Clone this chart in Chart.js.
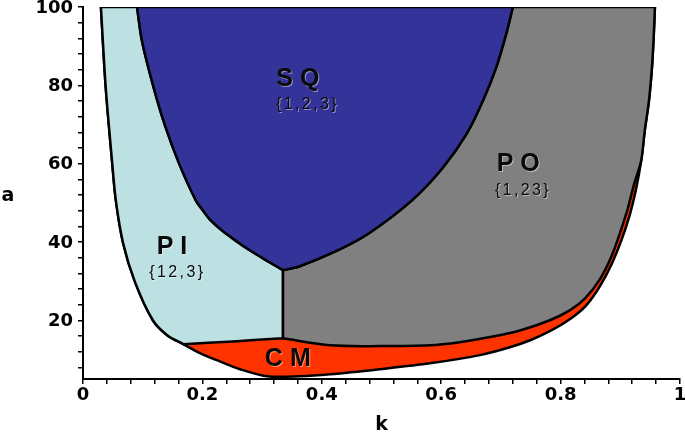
<!DOCTYPE html>
<html>
<head>
<meta charset="utf-8">
<script src="https://cdn.jsdelivr.net/npm/chart.js@4.4.1/dist/chart.umd.min.js"></script>
<style>
    body { margin: 0; background: #fff; }
    canvas { display: block; }
</style>
</head>
<body>
<canvas id="phaseChart" width="685" height="434"></canvas>
<script>
// boundary curves of the phase diagram (k, a)
var outerLeftK = [0.030, 0.038, 0.049, 0.055, 0.067, 0.087, 0.117, 0.141, 0.168];
var outerLeftA = [100, 79.6, 60, 50.6, 39.8, 29.8, 20, 16.2, 13.9];

var sqLeftK = [0.0905, 0.0988, 0.118, 0.137, 0.161, 0.189, 0.201, 0.214, 0.233, 0.255, 0.280, 0.307, 0.335];
var sqLeftA = [100, 91.3, 79.6, 69.9, 60, 50.6, 48.0, 45.5, 42.9, 40.4, 37.8, 35.3, 32.8];

var sqRightK = [0.335, 0.363, 0.430, 0.479, 0.551, 0.603, 0.643, 0.670, 0.692, 0.709, 0.720];
var sqRightA = [32.8, 33.8, 38.1, 42.2, 50.6, 59.0, 67.7, 76.1, 84.5, 93.2, 100];

var cmTopK = [0.168, 0.251, 0.335, 0.414, 0.497, 0.581, 0.631, 0.682, 0.732, 0.782, 0.816, 0.841, 0.866, 0.886, 0.901, 0.913, 0.923, 0.935];
var cmTopA = [13.9, 14.6, 15.4, 13.6, 13.4, 13.6, 14.4, 15.7, 17.4, 20.0, 22.6, 25.6, 30.5, 36.6, 43.0, 48.8, 54.7, 60.8];

var outerBottomK = [0.168, 0.196, 0.224, 0.263, 0.308, 0.363, 0.414, 0.497, 0.581, 0.665, 0.715, 0.749, 0.782, 0.816, 0.843, 0.866, 0.886, 0.903, 0.916, 0.926, 0.935, 0.941, 0.948, 0.953, 0.956, 0.958];
var outerBottomA = [13.9, 11.6, 9.8, 7.5, 5.7, 5.7, 6.2, 7.5, 9.0, 11.1, 13.1, 14.9, 17.2, 20.3, 23.8, 28.7, 34.5, 40.9, 47.0, 53.2, 60.8, 68.5, 76.1, 84.5, 92.7, 100];

// axis ticks
var xLabelTicks = [0, 0.2, 0.4, 0.6, 0.8, 1];
var yLabelTicks = [20, 40, 60, 80, 100];
var xMinorStep = 0.04;
var yMinorStep = 4;

// region names and their vertex sets
var regionNames = ['SQ', 'PO', 'PI', 'CM'];
var regionSets = ['{1,2,3}', '{1,23}', '{12,3}', ''];

function pts(ks, as) {
    return ks.map(function (k, i) { return {x: k, y: as[i]}; });
}

function last(arr) {
    return arr[arr.length - 1];
}

// curves joined end to end; the repeated junction points keep corners sharp
function join(curves) {
    return [].concat.apply([], curves);
}

var outerLeft = pts(outerLeftK, outerLeftA);
var sqLeft = pts(sqLeftK, sqLeftA);
var sqRight = pts(sqRightK, sqRightA);
var cmTop = pts(cmTopK, cmTopA);
var outerBottom = pts(outerBottomK, outerBottomA);
var outerRight = outerBottom.filter(function (p) { return p.y >= last(cmTop).y; }).reverse();

// whole domain (shows as CM where nothing covers it)
var domain = join([outerLeft, outerBottom.slice(1), [last(outerBottom), outerLeft[0]]]);
var piRegion = join([outerLeft, cmTop.slice(0, 3), [cmTop[2], last(sqLeft)],
    sqLeft.slice().reverse(), [sqLeft[0], outerLeft[0]]]);
var sqRegion = join([sqLeft, sqRight, [last(sqRight), sqLeft[0]]]);
var poRegion = join([sqRight, [last(sqRight), outerRight[0]], outerRight.slice(0, -1),
    cmTop.slice(2).reverse(), [cmTop[2], sqRight[0]]]);

function region(label, points, color, order) {
    return {
        label: label,
        data: points,
        showLine: true,
        fill: 'shape',
        backgroundColor: color,
        borderColor: '#000',
        borderWidth: 2.5,
        borderJoinStyle: 'round',
        pointRadius: 0,
        pointHoverRadius: 0,
        tension: 0.3,
        order: order
    };
}

function minorTicks(max, step, start) {
    var list = [];
    for (var i = 0; start + i * step <= max + 1e-9; i++) {
        list.push({value: Math.round((start + i * step) * 1000) / 1000});
    }
    return list;
}

// label placement in data coords
var labelSpots = [
    {k: 0.360, a: 81.5, sk: 0.374, sa: 75.1},
    {k: 0.729, a: 59.8, sk: 0.735, sa: 53.2},
    {k: 0.149, a: 38.6, sk: 0.156, sa: 32.2},
    {k: 0.343, a: 10.0, sk: 0, sa: 0}
];

var regionText = {
    id: 'regionText',
    afterDatasetsDraw: function (chart) {
        var ctx = chart.ctx;
        var xs = chart.scales.x, ys = chart.scales.y;
        ctx.save();
        ctx.textAlign = 'center';
        ctx.textBaseline = 'middle';
        ctx.shadowColor = 'rgba(255,255,255,0.45)';
        ctx.shadowOffsetX = 1;
        ctx.shadowOffsetY = 1;
        regionNames.forEach(function (name, i) {
            var s = labelSpots[i];
            ctx.fillStyle = '#0a0a0a';
            ctx.font = 'bold 25px "Liberation Sans", Arial, sans-serif';
            ctx.letterSpacing = '7px';
            ctx.fillText(name, xs.getPixelForValue(s.k) + 3.5, ys.getPixelForValue(s.a));
            if (regionSets[i]) {
                ctx.font = '16px "Liberation Sans", Arial, sans-serif';
                ctx.letterSpacing = '2.4px';
                ctx.fillText(regionSets[i], xs.getPixelForValue(s.sk) + 1.2, ys.getPixelForValue(s.sa));
            }
        });
        ctx.restore();

        // axis titles, upright
        ctx.save();
        ctx.fillStyle = '#000';
        ctx.font = 'bold 19px "DejaVu Sans", sans-serif';
        ctx.textAlign = 'center';
        ctx.textBaseline = 'middle';
        ctx.fillText('a', 8, 196);
        ctx.fillText('k', (chart.chartArea.left + chart.chartArea.right) / 2, 425);
        ctx.restore();
    }
};

var tickFont = {family: '"DejaVu Sans", sans-serif', size: 18, weight: 'bold'};

new Chart(document.getElementById('phaseChart').getContext('2d'), {
    type: 'scatter',
    data: {
        datasets: [
            region('SQ', sqRegion, '#333399', 1),
            region('PO', poRegion, '#808080', 1),
            region('PI', piRegion, '#bde0e3', 1),
            region('CM', domain, '#ff3300', 5)
        ]
    },
    options: {
        responsive: false,
        animation: false,
        layout: {padding: {top: 7, right: 5, left: 0, bottom: 0}},
        plugins: {
            legend: {display: false},
            tooltip: {enabled: false}
        },
        scales: {
            x: {
                type: 'linear',
                min: 0,
                max: 1,
                afterBuildTicks: function (scale) {
                    scale.ticks = minorTicks(1, xMinorStep, 0);
                },
                afterFit: function (scale) {
                    scale.height = 55;
                    scale.paddingLeft = 0;
                    scale.paddingRight = 0;
                },
                ticks: {
                    autoSkip: false,
                    maxRotation: 0,
                    color: '#000',
                    font: tickFont,
                    padding: 1,
                    callback: function (v) {
                        var hit = xLabelTicks.find(function (t) { return Math.abs(t - v) < 1e-6; });
                        return hit === undefined ? '' : String(hit);
                    }
                },
                grid: {display: true, drawOnChartArea: false, drawTicks: true, tickLength: 5, color: '#000', lineWidth: 1.5},
                border: {display: true, color: '#000', width: 2}
            },
            y: {
                type: 'linear',
                min: 5,
                max: 100,
                afterBuildTicks: function (scale) {
                    scale.ticks = minorTicks(100, yMinorStep, 8);
                },
                afterFit: function (scale) {
                    scale.width = 83;
                    scale.paddingTop = 0;
                    scale.paddingBottom = 0;
                },
                ticks: {
                    autoSkip: false,
                    color: '#000',
                    font: tickFont,
                    padding: 5,
                    labelOffset: 1,
                    callback: function (v) {
                        return yLabelTicks.indexOf(v) >= 0 ? String(v) : '';
                    }
                },
                grid: {display: true, drawOnChartArea: false, drawTicks: true, tickLength: 5, color: '#000', lineWidth: 1.5},
                border: {display: true, color: '#000', width: 2}
            }
        }
    },
    plugins: [regionText]
});
</script>
</body>
</html>
